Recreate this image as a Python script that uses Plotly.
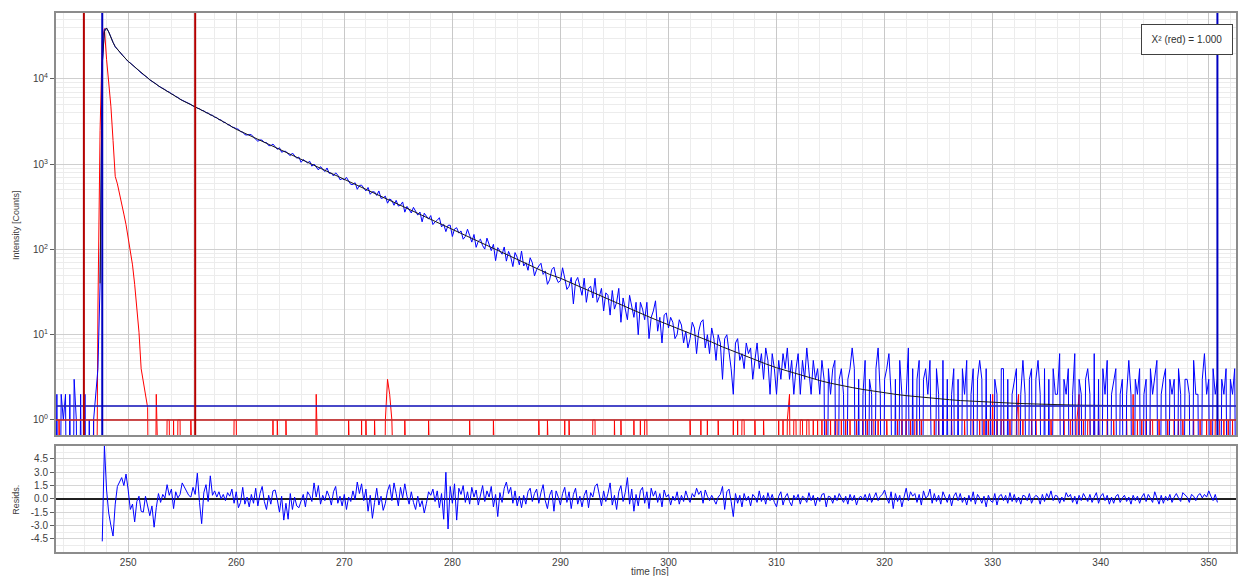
import numpy as np
import plotly.graph_objects as go

# ---------------- data ----------------
T0 = 243.0        # first channel time [ns]
DT = 0.2          # channel width [ns]

# decay counts, 5 channels per ns row (t = .0 .2 .4 .6 .8)
DECAY = [
    1, 0, 2, 0, 2,            # 243
    1, 2, 0, 2, 0,            # 244
    3, 1, 0, 2, 0,            # 245
    2, 0, 1, 0, 1,            # 246
    2, 4, 40, 15000, 38000,   # 247
    39400, 35700, 30300, 26900, 23800,  # 248
    22300, 20600, 19500, 18100, 17200,  # 249
    16000, 15400, 14500, 13950, 13050,  # 250
    12450, 11760, 11350, 10740, 10330,  # 251
    9760, 9450, 8960, 8700, 8260,       # 252
    8040, 7690, 7510, 7180, 7020,       # 253
    6710, 6540, 6230, 6080, 5790,       # 254
    5640, 5400, 5330, 5100, 5030,       # 255
    4810, 4750, 4540, 4490, 4290,       # 256
    4240, 4030, 3990, 3790, 3750,       # 257
    3560, 3520, 3330, 3300, 3120,       # 258
    3090, 2910, 2890, 2720, 2700,       # 259
    2606, 2579, 2411, 2382, 2220,       # 260
    2200, 2235, 2221, 2075, 1983,       # 261
    1860, 1930, 1915, 1798, 1795,       # 262
    1653, 1652, 1724, 1603, 1495,       # 263
    1561, 1383, 1417, 1416, 1321,       # 264
    1259, 1353, 1251, 1176, 1214,       # 265
    1053, 1135, 1090, 1037, 1083,       # 266
    948, 1005, 941, 858, 938,           # 267
    885, 820, 904, 783, 785,            # 268
    728, 793, 744, 658, 677,            # 269
    656, 702, 636, 580, 579,            # 270
    607, 508, 564, 569, 521,            # 271
    486, 534, 444, 476, 473,            # 272
    430, 486, 398, 404, 422,            # 273
    349, 391, 376, 330, 377,            # 274
    323, 331, 361, 274, 320,            # 275
    288, 268, 312, 277, 253,            # 276
    275, 211, 266, 247, 227,            # 277
    250, 196, 211, 220, 236,            # 278
    184, 197, 162, 192, 193,            # 279
    142, 174, 180, 156, 165,            # 280
    132, 142, 173, 146, 122,            # 281
    150, 106, 125, 132, 111,            # 282
    101, 136, 113, 97, 115,             # 283
    74, 105, 97, 88, 107,               # 284
    73, 95, 82, 63, 92,                 # 285
    81, 66, 96, 64, 70,                 # 286
    57, 80, 70, 49, 58,                 # 287
    64, 69, 51, 56, 39,                 # 288
    44, 58, 62, 47, 41,                 # 289
    43, 61, 46, 34, 37,                 # 290
    47, 23, 42, 47, 36,                 # 291
    29, 46, 24, 35, 37,                 # 292
    27, 46, 24, 28, 35,                 # 293
    19, 31, 29, 17, 33,                 # 294
    20, 24, 35, 14, 27,                 # 295
    19, 15, 29, 21, 16,                 # 296
    24, 10, 24, 20, 15,                 # 297
    24, 9, 16, 19, 25,                  # 298
    11, 16, 8, 17, 18,                  # 299
    12, 16, 14, 9, 10,                  # 300
    15, 13, 8, 11, 7,                   # 301
    9, 14, 12, 6, 11,                   # 302
    14, 15, 7, 10, 6,                   # 303
    12, 9, 5, 10, 8,                    # 304
    3, 9, 10, 6, 4,                     # 305
    2, 8, 9, 5, 6,                      # 306
    4, 8, 6, 7, 3,                      # 307
    5, 8, 4, 6, 3,                      # 308
    7, 5, 2, 6, 4,                      # 309
    2, 5, 3, 6, 4,                      # 310
    7, 3, 5, 2, 4,                      # 311
    6, 2, 5, 3, 7,                      # 312
    4, 2, 5, 3, 4,                      # 313
    2, 5, 3, 0, 4,                      # 314
    2, 4, 5, 0, 3,                      # 315
    4, 2, 0, 3, 4,                      # 316
    7, 4, 0, 3, 0,                      # 317
    2, 5, 0, 3, 2,                      # 318
    0, 4, 7, 2, 0,                      # 319
    3, 4, 6, 2, 0,                      # 320
    3, 0, 5, 2, 0,                      # 321
    2, 7, 0, 4, 0,                      # 322
    3, 5, 0, 3, 4,                      # 323
    2, 5, 0, 0, 4,                      # 324
    2, 0, 5, 0, 3,                      # 325
    0, 2, 4, 0, 3,                      # 326
    0, 4, 2, 5, 0,                      # 327
    2, 4, 0, 3, 5,                      # 328
    3, 0, 4, 0, 2,                      # 329
    0, 3, 2, 0, 4,                      # 330
    4, 0, 3, 0, 2,                      # 331
    3, 4, 0, 2, 5,                      # 332
    2, 0, 3, 4, 0,                      # 333
    3, 5, 2, 0, 4,                      # 334
    0, 3, 0, 4, 2,                      # 335
    2, 6, 0, 3, 2,                      # 336
    4, 0, 2, 6, 0,                      # 337
    3, 2, 0, 3, 4,                      # 338
    2, 0, 6, 0, 3,                      # 339
    0, 4, 2, 5, 0,                      # 340
    2, 3, 4, 0, 2,                      # 341
    3, 0, 2, 5, 2,                      # 342
    0, 3, 2, 4, 0,                      # 343
    2, 3, 0, 4, 2,                      # 344
    3, 5, 0, 2, 3,                      # 345
    4, 0, 3, 2, 3,                      # 346
    0, 4, 2, 0, 3,                      # 347
    3, 2, 0, 5, 2,                      # 348
    2, 0, 3, 6, 2,                      # 349
    3, 0, 4, 2, 3,                      # 350
    0, 3, 2, 4, 0,                      # 351
    3, 2, 4, 0, 2,                      # 352
]

# instrument response (IRF), same channels
IRF = [
    0, 0, 0, 1, 0,   # 243
    0, 0, 0, 0, 0,   # 244
    0, 0, 0, 0, 0,   # 245
    0, 0, 0, 0, 1,   # 246
    0, 20, 2500, 28000, 39000,   # 247
    17000, 9200, 4800, 1900, 720,  # 248
    590, 460, 350, 260, 196,     # 249
    135, 95, 66, 39, 22,         # 250
    10.7, 4, 2.8, 2, 1.4,        # 251
    0, 0, 0, 2, 0,   # 252
    0, 0, 0, 1, 1,   # 253
    0, 1, 0, 1, 1,   # 254
    0, 0, 0, 0, 1,   # 255
    0, 0, 0, 0, 0,   # 256
    0, 0, 0, 0, 0,   # 257
    0, 0, 0, 0, 0,   # 258
    0, 0, 0, 0, 1,   # 259
    1, 0, 0, 0, 0,   # 260
    0, 0, 0, 0, 0,   # 261
    0, 0, 0, 0, 0,   # 262
    0, 0, 1, 0, 1,   # 263
    0, 0, 0, 1, 0,   # 264
    0, 0, 0, 0, 0,   # 265
    0, 0, 0, 0, 0,   # 266
    0, 0, 2, 0, 0,   # 267
    0, 0, 0, 0, 0,   # 268
    0, 0, 0, 0, 0,   # 269
    0, 0, 1, 0, 0,   # 270
    0, 0, 0, 1, 0,   # 271
    1, 0, 0, 0, 1,   # 272
    0, 0, 0, 0, 1,   # 273
    3, 2, 1, 0, 0,   # 274
    0, 0, 0, 1, 0,   # 275
    0, 0, 0, 0, 0,   # 276
    0, 0, 0, 0, 1,   # 277
    0, 0, 0, 0, 0,   # 278
    0, 0, 0, 0, 0,   # 279
    0, 0, 0, 0, 0,   # 280
    0, 0, 0, 1, 0,   # 281
    0, 0, 0, 0, 0,   # 282
    0, 0, 0, 0, 1,   # 283
    0, 0, 0, 0, 0,   # 284
    0, 0, 0, 0, 0,   # 285
    0, 0, 0, 0, 0,   # 286
    0, 0, 0, 0, 0,   # 287
    1, 0, 0, 0, 1,   # 288
    0, 0, 0, 0, 0,   # 289
    0, 0, 1, 0, 1,   # 290
    0, 0, 0, 0, 0,   # 291
    0, 0, 0, 0, 0,   # 292
    1, 1, 0, 0, 0,   # 293
    0, 0, 0, 0, 0,   # 294
    1, 0, 0, 1, 0,   # 295
    0, 0, 0, 0, 1,   # 296
    0, 0, 1, 0, 1,   # 297
    1, 0, 0, 0, 0,   # 298
    0, 0, 0, 0, 0,   # 299
    0, 0, 0, 0, 0,   # 300
    0, 0, 0, 0, 0,   # 301
    1, 0, 0, 0, 0,   # 302
    1, 0, 0, 1, 0,   # 303
    0, 0, 0, 1, 0,   # 304
    0, 0, 0, 0, 0,   # 305
    1, 0, 1, 0, 1,   # 306
    1, 0, 0, 0, 0,   # 307
    1, 0, 0, 0, 1,   # 308
    0, 0, 0, 0, 0,   # 309
    0, 1, 0, 1, 0,   # 310
    1, 2, 0, 1, 1,   # 311
    0, 1, 1, 0, 1,   # 312
    1, 0, 1, 0, 1,   # 313
    0, 1, 0, 1, 0,   # 314
    1, 0, 1, 1, 0,   # 315
    1, 0, 1, 0, 1,   # 316
    0, 0, 1, 0, 0,   # 317
    1, 0, 1, 0, 1,   # 318
    1, 0, 1, 0, 0,   # 319
    0, 1, 0, 0, 0,   # 320
    0, 1, 0, 1, 0,   # 321
    1, 0, 1, 0, 1,   # 322
    1, 0, 1, 0, 0,   # 323
    0, 0, 0, 1, 0,   # 324
    1, 0, 1, 0, 0,   # 325
    0, 1, 0, 0, 0,   # 326
    0, 0, 1, 0, 0,   # 327
    0, 1, 0, 0, 1,   # 328
    0, 1, 0, 1, 0,   # 329
    2, 0, 1, 0, 1,   # 330
    1, 0, 0, 1, 0,   # 331
    0, 1, 2, 0, 1,   # 332
    0, 0, 0, 1, 0,   # 333
    1, 0, 0, 0, 0,   # 334
    0, 0, 1, 0, 0,   # 335
    0, 0, 0, 1, 0,   # 336
    0, 1, 1, 0, 1,   # 337
    2, 0, 1, 0, 1,   # 338
    1, 0, 1, 0, 1,   # 339
    0, 0, 0, 1, 0,   # 340
    0, 1, 0, 0, 0,   # 341
    0, 0, 1, 0, 0,   # 342
    2, 0, 1, 0, 1,   # 343
    0, 1, 0, 1, 1,   # 344
    0, 0, 1, 0, 0,   # 345
    0, 1, 0, 0, 1,   # 346
    0, 1, 0, 1, 0,   # 347
    0, 0, 0, 1, 0,   # 348
    0, 1, 0, 0, 1,   # 349
    0, 1, 0, 1, 1,   # 350
    1, 0, 1, 0, 1,   # 351
    0, 1, 0, 2, 1,   # 352
]

# fitted curve (black)
FIT_T = [247.4, 247.6, 247.8, 248.0, 248.2, 248.4, 248.6, 248.8, 249.0, 249.5,
         250, 250.5, 251, 251.5, 252, 253, 254, 255, 256, 257, 258, 259,
         260, 261, 262, 263, 264, 265, 266, 267, 268, 269,
         270, 271, 272, 273, 274, 275, 276, 277, 278, 279,
         280, 281, 282, 283, 284, 285, 286, 287, 288, 289,
         290, 291, 292, 293, 294, 295, 296, 297, 298, 299,
         300, 301, 302, 303, 304, 305, 306, 307, 308, 309,
         310, 311, 312, 313, 314, 315, 316, 317, 318, 319,
         320, 321, 322, 323, 324, 325, 326, 327, 328, 329,
         330, 332, 334, 336, 338, 342, 346, 350.8]
FIT_Y = [40, 15000, 36000, 39600, 35500, 30500, 26800, 24000, 22200, 18800,
         16100, 14200, 12400, 11000, 9800, 8000, 6750, 5600, 4850, 4200, 3600, 3050,
         2570, 2245, 1961, 1713, 1496, 1307, 1142, 997, 871, 761,
         665, 581, 508, 443, 387, 338, 296, 258, 225, 197,
         172, 150.4, 131.4, 114.8, 100.2, 87.6, 76.5, 66.8, 58.3, 51.0,
         46.0, 40.4, 35.5, 31.2, 27.4, 24.2, 21.3, 18.8, 16.6, 14.7,
         13.1, 11.6, 10.3, 9.2, 8.2, 7.2, 6.4, 5.7, 5.1, 4.55,
         4.1, 3.75, 3.45, 3.15, 2.9, 2.7, 2.53, 2.4, 2.28, 2.17,
         2.08, 2.0, 1.93, 1.87, 1.82, 1.77, 1.73, 1.69, 1.66, 1.63,
         1.61, 1.57, 1.54, 1.51, 1.49, 1.475, 1.465, 1.46]

# weighted residuals, starting at 247.6 ns, same channel width
RES_T0 = 247.6
RESID = [
    -4.8, 6.0,                       # 247.6-247.8
    1.0, -1.6, -3.0, -4.2, -0.6,     # 248
    1.4, 1.9, 2.4, 1.5, 2.8,         # 249
    1.0, -1.2, -0.6, -2.6, -0.3,     # 250
    0.3, -1.4, -1.5, 0.3, -1.0,      # 251
    -1.9, -0.8, -3.2, -1.0, 0.6,     # 252
    -0.4, 0.5, 0.1, 1.6, 0.4,        # 253
    1.1, -1.1, 0.8, 0.1, 0.5,        # 254
    1.8, 1.3, 0.9, 0.4, 0.2,         # 255
    1.3, 0.5, 2.9, -0.4, -2.8,       # 256
    0.7, 1.6, -0.3, 2.6, 0.4,        # 257
    0.9, 0.2, 0.8, 0.0, 0.5,         # 258
    -0.2, 0.7, 0.3, 1.1, -0.5,       # 259
    0.8, -1.0, -0.4, 1.3, -0.6,      # 260
    0.2, -0.9, 0.5, -0.5, 1.2,       # 261
    -0.8, 0.6, 1.4, -0.3, -1.2,      # 262
    0.4, -0.6, 0.9, 1.0, -0.1,       # 263
    -1.5, 0.3, -2.4, -0.5, -2.3,     # 264
    0.6, -1.2, 0.2, -0.8, -1.0,      # 265
    -0.2, 0.5, -0.9, 0.8, 0.4,       # 266
    -0.3, 1.8, 0.2, 1.5, -0.6,       # 267
    0.4, -0.2, 0.9, 0.3, -0.7,       # 268
    0.8, 1.4, -0.5, 0.3, -0.8,       # 269
    0.5, -1.2, 0.2, -0.3, 0.9,       # 270
    -0.1, 1.9, 0.6, 1.7, -0.2,       # 271
    1.1, -1.4, 0.4, -2.2, -0.4,      # 272
    1.2, -0.7, 0.3, -1.3, -0.5,      # 273
    0.9, 1.6, -0.2, 1.8, 0.6,        # 274
    -0.8, 1.3, 0.1, 1.7, 0.3,        # 275
    -0.6, 0.8, -0.4, -1.2, 0.3,      # 276
    -0.9, -0.2, -1.6, -0.5, 0.8,     # 277
    0.4, 1.1, -0.3, 0.9, -1.0,       # 278
    0.6, -2.3, 3.0, -3.4, 1.4,       # 279
    -0.5, 1.7, -2.4, 1.2, 0.5,       # 280
    1.5, -0.4, 0.8, -0.6, 1.3,       # 281
    0.2, 1.0, -0.7, 0.6, 1.5,        # 282
    -0.3, 0.9, 0.2, 1.4, -0.9,       # 283
    0.5, -2.0, 0.7, -0.4, 1.2,       # 284
    1.9, 0.6, 1.3, -0.5, 0.9,        # 285
    -0.8, 0.3, -1.0, 0.4, -0.6,      # 286
    0.8, 1.2, -0.3, 0.6, 1.1,        # 287
    -0.5, 0.7, 1.6, -0.2, -1.1,      # 288
    0.4, 1.0, -1.4, 0.9, 0.2,        # 289
    -0.7, 0.6, 1.3, -0.4, 0.8,       # 290
    -1.1, 0.5, 1.2, -0.6, 0.3,       # 291
    -0.9, 0.4, 1.0, -1.0, 0.7,       # 292
    0.2, 1.4, 1.7, 0.5, -0.8,        # 293
    0.9, -0.3, 0.6, 1.8, -0.7,       # 294
    0.4, -1.2, 0.8, 1.5, -0.3,       # 295
    0.7, 2.4, -0.6, 1.1, -1.4,       # 296
    0.5, -0.8, 0.9, 1.3, -0.5,       # 297
    0.8, -1.1, 1.2, 0.3, 0.9,        # 298
    -0.4, 0.6, -0.9, 1.0, 0.2,       # 299
    0.5, -0.7, 0.3, -0.2, 0.8,       # 300
    -0.6, 0.4, -0.3, 0.9, 0.1,       # 301
    -0.4, 0.6, 0.2, 1.2, 0.5,        # 302
    0.9, -0.5, 1.0, 0.3, -0.2,       # 303
    0.4, -0.1, -0.6, 0.2, 0.5,       # 304
    1.4, -1.2, 0.8, 1.1, -0.3,       # 305
    -2.0, 0.6, -0.5, 0.4, -0.9,      # 306
    0.6, -0.2, 0.3, -0.8, 0.5,       # 307
    0.2, -0.4, 0.9, -0.3, 0.4,       # 308
    -0.6, 0.7, -0.2, 0.5, -0.4,      # 309
    -0.9, 0.3, 0.8, -0.7, 0.2,       # 310
    0.6, -0.3, -0.8, 0.4, -0.1,      # 311
    0.5, -0.6, 0.3, 0.1, -0.4,       # 312
    0.7, -0.2, 0.4, -0.8, 0.2,       # 313
    -0.3, 0.5, 0.6, -0.9, 0.3,       # 314
    0.2, -0.5, 0.4, -0.2, 0.6,       # 315
    0.1, -0.4, 0.3, -0.6, 0.5,       # 316
    -0.2, 0.4, -0.7, 0.1, 0.3,       # 317
    -0.1, 0.5, -0.3, 0.6, -0.4,      # 318
    0.2, 0.7, -0.2, 0.3, 0.5,        # 319
    1.0, 0.1, -0.5, 0.8, -1.1,       # 320
    0.6, -0.3, 0.4, -0.9, 0.2,       # 321
    1.2, -0.2, 0.8, 0.3, 0.6,        # 322
    -0.4, 0.5, -0.7, 0.9, 0.1,       # 323
    0.3, 1.1, -0.5, 0.6, -0.3,       # 324
    0.4, -0.6, 0.8, 0.2, -0.4,       # 325
    0.5, -0.8, 0.3, 0.7, -0.2,       # 326
    0.6, -0.4, 0.2, -0.7, 0.4,       # 327
    -0.3, 0.8, -0.6, 0.5, 0.1,       # 328
    -0.5, 0.3, -0.9, 0.4, -0.2,      # 329
    -0.4, 0.6, -0.7, 0.3, 0.5,       # 330
    -0.2, 0.4, -0.5, 0.7, -0.3,      # 331
    0.5, -0.4, 0.2, -0.6, 0.4,       # 332
    0.3, -0.2, 0.6, -0.5, 0.1,       # 333
    0.4, 0.2, -0.6, 0.5, -0.3,       # 334
    0.6, 0.1, 0.9, -0.2, 0.4,        # 335
    0.3, -0.5, 0.2, -0.3, 0.7,       # 336
    0.2, 0.5, -0.4, 0.3, -0.6,       # 337
    0.4, -0.2, 0.6, 0.1, -0.3,       # 338
    0.5, -0.4, 0.2, 0.7, -0.5,       # 339
    0.3, 0.6, -0.2, 0.4, -0.6,       # 340
    0.2, -0.5, 0.3, 0.5, -0.4,       # 341
    0.1, 0.4, -0.3, 0.2, -0.6,       # 342
    0.4, -0.2, 0.3, -0.5, 0.2,       # 343
    0.6, -0.3, 0.5, 0.1, -0.4,       # 344
    0.8, 0.2, -0.6, 0.4, -0.5,       # 345
    0.3, -0.2, 0.5, -0.4, 0.2,       # 346
    0.6, 0.1, -0.3, 0.7, 0.4,        # 347
    0.2, -0.4, 0.5, 0.3, -0.2,       # 348
    0.4, 0.6, 0.1, 0.5, 0.2,         # 349
    0.9, 0.3, -0.2, 0.5, -0.4,       # 350
]

CURSORS_RED = [245.9, 256.2]
CURSORS_BLUE = [247.6, 350.8]
BG_LEVEL = 1.46
IRF_LEVEL = 1.0

X_TICKS = [250, 260, 270, 280, 290, 300, 310, 320, 330, 340, 350]
Y_TICKS = [1, 10, 100, 1000, 10000]
Y_LABELS = ["10<sup>0</sup>", "10<sup>1</sup>", "10<sup>2</sup>", "10<sup>3</sup>", "10<sup>4</sup>"]
RES_TICKS = [-4.5, -3.0, -1.5, 0.0, 1.5, 3.0, 4.5]
RES_LABELS = ["-4.5", "-3.0", "-1.5", "0.0", "1.5", "3.0", "4.5"]
CHI2_TEXT = "X² (red) = 1.000"

# ---------------- figure ----------------
FONT = "Liberation Sans, Arial, sans-serif"
TXT = "#404040"
FLOOR = 1e-3   # zero counts drawn below the visible log range

t_dec = T0 + DT * np.arange(len(DECAY))
t_irf = T0 + DT * np.arange(len(IRF))
t_res = RES_T0 + DT * np.arange(len(RESID))
dec_plot = np.where(np.array(DECAY, float) > 0, DECAY, FLOOR)
irf_plot = np.where(np.array(IRF, float) > 0, IRF, FLOOR)

minor_log = [k * d for d in Y_TICKS for k in range(2, 10)]

fig = go.Figure()
fig.add_trace(go.Scatter(x=t_irf, y=irf_plot, xaxis="x2", yaxis="y2", mode="lines",
                         line=dict(color="#ff0000", width=1), hoverinfo="skip"))
fig.add_trace(go.Scatter(x=t_dec, y=dec_plot, xaxis="x2", yaxis="y2", mode="lines",
                         line=dict(color="#0000ff", width=1), hoverinfo="skip"))
fig.add_trace(go.Scatter(x=FIT_T, y=FIT_Y, xaxis="x2", yaxis="y2", mode="lines",
                         line=dict(color="#1a1a1a", width=1), hoverinfo="skip"))
fig.add_trace(go.Scatter(x=t_res, y=RESID, xaxis="x", yaxis="y", mode="lines",
                         line=dict(color="#0000ff", width=1), hoverinfo="skip"))

shapes = []
for lvl, col in [(BG_LEVEL, "rgba(40,40,190,0.85)"), (IRF_LEVEL, "rgba(195,45,45,0.85)")]:
    shapes.append(dict(type="line", xref="x2 domain", x0=0, x1=1, yref="y2",
                       y0=lvl, y1=lvl, line=dict(color=col, width=2), layer="above"))
for xc in CURSORS_RED:
    shapes.append(dict(type="line", xref="x2", x0=xc, x1=xc, yref="y2 domain", y0=0, y1=1,
                       line=dict(color="#b40000", width=2), layer="above"))
for xc in CURSORS_BLUE:
    shapes.append(dict(type="line", xref="x2", x0=xc, x1=xc, yref="y2 domain", y0=0, y1=1,
                       line=dict(color="#0000c0", width=2), layer="above"))

annotations = [
    dict(text=CHI2_TEXT, xref="paper", yref="paper", x=0.9585, y=0.9505,
         xanchor="center", yanchor="middle", showarrow=False,
         font=dict(family=FONT, size=10, color="#303030"),
         bgcolor="white", bordercolor="#404040", borderwidth=1, borderpad=1,
         width=88, height=27),
    dict(text="Intensity [Counts]", xref="paper", yref="paper", x=-0.0338, y=0.607,
         textangle=-90, showarrow=False, xanchor="center", yanchor="middle",
         font=dict(family=FONT, size=9, color=TXT)),
    dict(text="Resids.", xref="paper", yref="paper", x=-0.0338, y=0.097,
         textangle=-90, showarrow=False, xanchor="center", yanchor="middle",
         font=dict(family=FONT, size=9, color=TXT)),
    dict(text="time [ns]", xref="paper", yref="paper", x=0.5034, y=-0.0353,
         showarrow=False, xanchor="center", yanchor="middle",
         font=dict(family=FONT, size=10, color=TXT)),
]

XRANGE = [243.32, 352.52]
axis_common = dict(showline=True, mirror=True, linecolor="#8c8c8c", linewidth=2,
                   tickfont=dict(family=FONT, size=10, color=TXT))

fig.update_layout(
    width=1238, height=576,
    margin=dict(l=56, r=0, t=13, b=24),
    paper_bgcolor="white", plot_bgcolor="white",
    showlegend=False,
    shapes=shapes, annotations=annotations,
    xaxis=dict(domain=[0, 1], anchor="y", range=XRANGE, tickmode="array", tickvals=X_TICKS,
               showgrid=True, gridcolor="#c8c8c8", gridwidth=1, zeroline=False,
               ticks="",
               minor=dict(tickmode="linear", tick0=0, dtick=2, showgrid=True,
                          gridcolor="#ececec", ticks=""),
               **axis_common),
    xaxis2=dict(domain=[0, 1], anchor="y2", matches="x", range=XRANGE,
                tickmode="array", tickvals=X_TICKS, showticklabels=False,
                showgrid=True, gridcolor="#c8c8c8", gridwidth=1, zeroline=False,
                ticks="",
                minor=dict(tickmode="linear", tick0=0, dtick=2, showgrid=True,
                           gridcolor="#ececec", ticks=""),
                **axis_common),
    yaxis=dict(domain=[0, 0.1972], anchor="x", range=[-6, 6], tickmode="array",
               tickvals=RES_TICKS, ticktext=RES_LABELS,
               showgrid=True, gridcolor="#d6d6d6", zeroline=True, zerolinecolor="#202020",
               zerolinewidth=1.5, ticks="outside", ticklen=4, tickcolor="#606060",
               minor=dict(tickmode="linear", tick0=0, dtick=0.75, showgrid=True,
                          gridcolor="#ececec", ticks=""),
               **axis_common),
    yaxis2=dict(domain=[0.2171, 1], anchor="x2", type="log", range=[-0.176, 4.774],
                tickmode="array", tickvals=Y_TICKS, ticktext=Y_LABELS,
                showgrid=True, gridcolor="#cfcfcf", zeroline=False,
                ticks="outside", ticklen=4, tickcolor="#606060",
                minor=dict(tickmode="array", tickvals=minor_log, showgrid=True,
                           gridcolor="#ececec", ticks=""),
                **axis_common),
)

fig.write_html("out.html")
